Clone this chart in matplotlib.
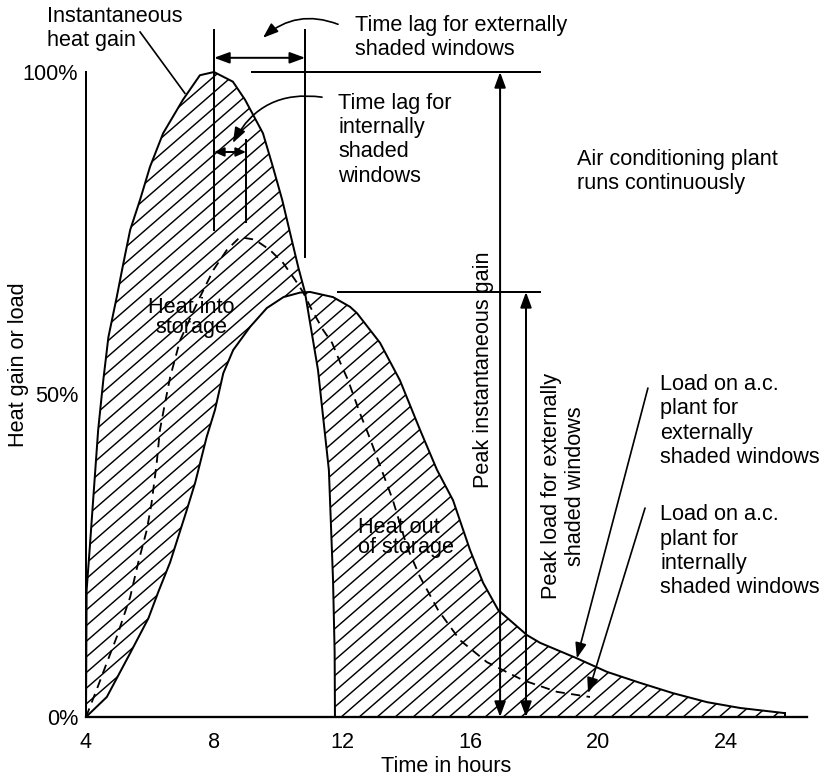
import matplotlib
matplotlib.use('Agg')
import matplotlib.pyplot as plt
from matplotlib.patches import Polygon
from matplotlib.collections import LineCollection
import numpy as np

plt.rcParams['font.family'] = ['Liberation Sans', 'DejaVu Sans']

# instantaneous solar heat gain, % of its peak
gain_hours = [4.0, 4.01, 4.02, 4.12, 4.23, 4.38, 4.54, 4.70, 4.96, 5.17, 5.38, 5.69, 6.0,
              6.41, 7.03, 7.56, 8.0, 8.59, 8.97, 9.53, 9.84, 10.13, 10.38, 10.63, 10.84,
              11.25, 11.59, 11.72, 11.77, 11.78]
gain_pct = [0, 10.0, 19.7, 26.4, 34.1, 44.5, 52.2, 58.9, 65.1, 70.4, 75.5, 80.2, 85.3,
            90.5, 95.7, 99.5, 100, 98.5, 95.7, 90.5, 85.3, 80.2, 75.0, 69.8, 65.9,
            53.8, 38.3, 21.2, 10.0, 0]

# load on the plant, externally shaded windows
ext_hours = [4.0, 4.65, 5.38, 5.95, 6.26, 6.63, 7.15, 7.41, 7.77, 8.03, 8.29, 8.6, 9.13,
             9.65, 10.17, 10.69, 11.0, 11.72, 12.25, 12.47, 13.19, 13.81, 14.44, 14.97,
             15.47, 16.0, 16.41, 16.88, 17.78, 18.19, 19.34, 20.28, 21.31, 22.34, 23.41,
             24.44, 25.84]
ext_pct = [0, 3.1, 9.9, 15.3, 19.4, 24.0, 32.1, 36.3, 43.4, 47.6, 53.3, 56.9, 60.5,
           63.4, 65.1, 65.8, 65.9, 65.1, 63.6, 62.6, 58.0, 52.2, 44.5, 38.3,
           33.6, 25.9, 20.8, 16.6, 12.7, 11.5, 9.1, 7.0, 5.3, 3.7, 2.3,
           1.4, 0.6]

# load on the plant, internally shaded windows
int_hours = [4.0, 4.33, 4.65, 4.96, 5.38, 5.63, 5.9, 6.05, 6.21, 6.31, 6.47, 6.63, 6.94,
             7.56, 7.98, 8.4, 8.81, 9.28, 9.75, 10.16, 10.53, 10.78, 11.06, 11.41, 11.69,
             11.94, 12.19, 12.56, 12.81, 13.09, 13.59, 14.03, 14.44, 15.0, 15.69, 16.53,
             17.66, 18.72, 19.75]
int_pct = [0, 4.2, 8.4, 12.4, 18.6, 23.9, 29.0, 33.2, 39.4, 44.5, 48.7, 52.7, 58.4,
           65.1, 69.3, 72.4, 74.4, 74.0, 72.4, 70.4, 67.8, 65.9, 63.1, 60.0, 58.0,
           55.0, 52.2, 47.1, 44.0, 40.3, 33.6, 26.4, 21.7, 16.6, 11.9, 8.5,
           5.7, 3.9, 3.1]

peak_gain_hour = 8.0
peak_int_hour = 9.0
peak_ext_hour = 10.85
peak_gain = 100
peak_ext = 65.9

hour_ticks = [4, 8, 12, 16, 20, 24]
pct_ticks = [0, 50, 100]
pct_labels = ['0%', '50%', '100%']

FS = 14.2
LW = 1.3
PX_H = 32.0    # pixels per hour
PX_P = 6.45    # pixels per percent

fig = plt.figure(figsize=(7.5, 779 / 110), dpi=110)
ax = fig.add_axes([86 / 825, 62 / 779, 721 / 825, 717 / 779])
ax.set_xlim(4, 4 + 721 / PX_H)
ax.set_ylim(0, 717 / PX_P)

for s in ['top', 'right']:
    ax.spines[s].set_visible(False)
ax.spines['left'].set_bounds(0, 100)
ax.spines['left'].set_linewidth(1.3)
ax.spines['bottom'].set_linewidth(1.5)

ax.set_xticks(hour_ticks)
ax.set_yticks(pct_ticks, labels=pct_labels)
ax.tick_params(axis='both', length=0, labelsize=FS)
ax.tick_params(axis='x', pad=10)
ax.tick_params(axis='y', pad=5)
ax.set_xlabel('Time in hours', fontsize=FS, labelpad=2)
ax.set_ylabel('Heat gain or load', fontsize=FS)
ax.yaxis.set_label_coords(-0.0797, 0.491)

# hatched area between gain and load (heat into / out of storage)
px = gain_hours + [ext_hours[-1]] + ext_hours[::-1]
py = gain_pct + [0] + ext_pct[::-1]
region = Polygon(np.column_stack([px, py]), closed=True, facecolor='none',
                 edgecolor='none')
ax.add_patch(region)
ang = np.radians(41)
run = (717 / np.tan(ang)) / PX_H
starts = np.arange(4 - run, 27, 18 / PX_H)
segs = [[(h0, 0), (h0 + run, 717 / PX_P)] for h0 in starts]
hatch = LineCollection(segs, colors='k', linewidths=0.95)
ax.add_collection(hatch)
hatch.set_clip_path(region)

ax.plot(gain_hours, gain_pct, color='k', lw=LW)
ax.plot(ext_hours, ext_pct, color='k', lw=LW)
ax.plot([ext_hours[-1], ext_hours[-1]], [ext_pct[-1], 0], color='k', lw=LW)
ax.plot(int_hours, int_pct, color='k', lw=1.2, linestyle=(0, (5, 3.5)))

# time lag markers
ax.plot([peak_gain_hour] * 2, [106.5, 75.5], color='k', lw=LW)
ax.plot([peak_ext_hour] * 2, [106.5, 71.3], color='k', lw=LW)
ax.plot([peak_int_hour] * 2, [89.5, 76.7], color='k', lw=LW)
dbl = dict(arrowstyle='<|-|>,head_length=0.6,head_width=0.22', color='k', lw=LW,
           mutation_scale=14, shrinkA=0, shrinkB=0)
small = dict(arrowstyle='<|-|>,head_length=0.45,head_width=0.2', color='k', lw=LW,
             mutation_scale=12, shrinkA=0, shrinkB=0)
one = dict(arrowstyle='-|>,head_length=0.6,head_width=0.22', color='k', lw=1.1,
           mutation_scale=14, shrinkA=0, shrinkB=0)
ax.annotate('', xy=(peak_ext_hour, 102.2), xytext=(peak_gain_hour, 102.2), arrowprops=dbl)
ax.annotate('', xy=(peak_int_hour, 87.6), xytext=(peak_gain_hour, 87.6), arrowprops=small)

# peak levels
ax.plot([9.19, 18.19], [peak_gain, peak_gain], color='k', lw=LW)
ax.plot([11.875, 18.19], [peak_ext, peak_ext], color='k', lw=LW)
ax.annotate('', xy=(16.94, peak_gain), xytext=(16.94, 0), arrowprops=dbl)
ax.annotate('', xy=(17.75, peak_ext), xytext=(17.75, 0), arrowprops=dbl)

# labels
ax.text(2.78, 106.7, 'Instantaneous\nheat gain', fontsize=FS, ha='left', va='center')
ax.plot([5.69, 7.09], [106.2, 96.7], color='k', lw=1.1)

ax.text(12.41, 105.3, 'Time lag for externally\nshaded windows', fontsize=FS,
        ha='left', va='center')
ax.annotate('', xy=(9.53, 105.3), xytext=(11.875, 107.4),
            arrowprops=dict(one, connectionstyle='arc3,rad=0.3'))

ax.text(11.875, 89.5, 'Time lag for\ninternally\nshaded\nwindows', fontsize=FS,
        ha='left', va='center')
ax.annotate('', xy=(8.59, 89.0), xytext=(11.375, 96.1),
            arrowprops=dict(one, connectionstyle='arc3,rad=0.35'))

ax.text(19.34, 84.6, 'Air conditioning plant\nruns continuously', fontsize=FS,
        ha='left', va='center')

ax.text(21.94, 45.9, 'Load on a.c.\nplant for\nexternally\nshaded windows', fontsize=FS,
        ha='left', va='center')
ax.annotate('', xy=(19.34, 9.1), xytext=(21.56, 51.0), arrowprops=one)
ax.text(21.94, 25.7, 'Load on a.c.\nplant for\ninternally\nshaded windows', fontsize=FS,
        ha='left', va='center')
ax.annotate('', xy=(19.69, 3.7), xytext=(21.47, 32.4), arrowprops=one)

ax.text(7.28, 61.9, 'Heat into\nstorage', fontsize=FS, ha='center', va='center',
        linespacing=0.95)
ax.text(12.5, 27.8, 'Heat out\nof storage', fontsize=FS, ha='left', va='center',
        linespacing=0.95)

ax.text(16.41, 53.8, 'Peak instantaneous gain', fontsize=FS, rotation=90,
        ha='center', va='center')
ax.text(18.91, 35.8, 'Peak load for externally\nshaded windows', fontsize=FS,
        rotation=90, ha='center', va='center', multialignment='center')

fig.savefig('out.png', dpi=110, facecolor='white')
